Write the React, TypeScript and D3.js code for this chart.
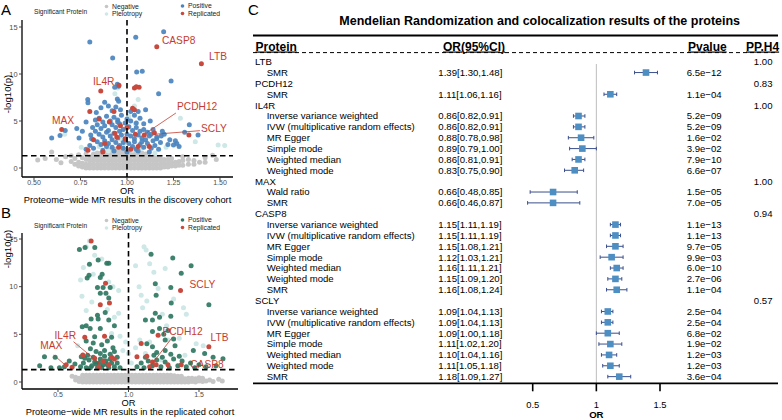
import React from "react";
import * as d3 from "d3";

// ---------- Panel A (discovery cohort) ----------
const negA: [number, number[]][] = [
  [0.52, [0.85]], [0.56, [1.0]], [0.595, [1.7]], [0.62, [0.9]], [0.645, [0.55]], [0.67, [1.2]],
  [0.7, [0.7, 1.3]], [0.72, [0.4, 1.0]], [0.74, [0.2, 0.6, 1.4]], [0.76, [0.1, 0.5, 1.1]],
  [0.78, [0.0, 0.4, 0.9, 1.5]], [0.8, [0.0, 0.4, 0.8, 1.2]], [0.82, [0.0, 0.4, 0.8, 1.2, 1.5]],
  [0.84, [0.0, 0.4, 0.8, 1.2, 1.6]], [0.86, [0.0, 0.4, 0.8, 1.2, 1.6]], [0.88, [0.0, 0.4, 0.8, 1.2, 1.6]],
  [0.9, [0.0, 0.4, 0.8, 1.2, 1.6, 1.9]], [0.92, [0.0, 0.4, 0.8, 1.2, 1.6, 2.0]], [0.94, [0.0, 0.4, 0.8, 1.2, 1.6, 2.0]],
  [0.96, [0.0, 0.4, 0.8, 1.2, 1.6, 2.0]], [0.98, [0.0, 0.4, 0.8, 1.2, 1.6, 2.0]], [1.0, [0.0, 0.4, 0.8, 1.2, 1.6, 2.0]],
  [1.02, [0.0, 0.4, 0.8, 1.2, 1.6, 2.0]], [1.04, [0.0, 0.4, 0.8, 1.2, 1.6, 1.9]], [1.06, [0.0, 0.4, 0.8, 1.2, 1.6]],
  [1.08, [0.0, 0.4, 0.8, 1.2, 1.6]], [1.1, [0.0, 0.4, 0.8, 1.2, 1.5]], [1.12, [0.0, 0.4, 0.8, 1.2]],
  [1.14, [0.0, 0.4, 0.8, 1.2]], [1.16, [0.0, 0.4, 0.8, 1.1]], [1.18, [0.0, 0.4, 0.8, 1.0]],
  [1.2, [0.1, 0.5, 0.9]], [1.22, [0.1, 0.5, 0.9]], [1.24, [0.2, 0.6, 1.0]], [1.26, [0.2, 0.6]],
  [1.28, [0.3, 0.7]], [1.3, [0.3, 0.8, 1.2]], [1.33, [0.4, 0.9]], [1.36, [0.4, 0.8]], [1.39, [0.6]],
  [1.42, [0.6, 1.1]], [1.46, [1.35]], [1.48, [0.9]],
];
const pleA: [number, number][] = [
  [0.95, 8.5], [0.935, 7.9], [1.04, 6.6], [1.06, 7.3], [1.287, 5.3], [1.367, 2.8], [1.49, 2.45],
  [1.525, 2.4], [0.754, 2.2], [0.665, 3.6], [0.98, 2.5], [1.03, 1.9], [1.01, 5.5], [1.08, 2.1],
  [0.9, 1.8], [0.97, 3.0], [1.045, 4.7], [1.15, 1.6], [1.21, 2.2], [0.85, 2.3],
];
const posA: [number, number][] = [
  [0.8, 13.4], [1.047, 13.9], [1.197, 14.5], [0.923, 11.7], [1.082, 10.3], [1.052, 10.2], [1.237, 9.25],
  [0.948, 8.9], [0.934, 8.6], [0.955, 8.7], [1.17, 7.9], [0.789, 7.3], [0.79, 6.95], [0.948, 7.35],
  [0.955, 7.1], [1.1, 6.2], [1.06, 6.0], [0.73, 4.2], [0.668, 4.0], [0.595, 3.2], [0.64, 3.45],
  [0.742, 3.2], [1.335, 4.6], [1.382, 3.5], [1.25, 2.45], [1.268, 2.6], [1.22, 2.5], [1.184, 3.4],
  [1.23, 3.0], [1.26, 2.9], [1.28, 2.3], [1.31, 3.8], [1.16, 3.1], [1.2, 3.6], [1.125, 5.0],
  [1.14, 4.1], [0.815, 4.3], [0.83, 5.1], [0.84, 4.6], [0.78, 4.9], [0.76, 3.9], [0.805, 3.5],
  [0.835, 5.9], [0.86, 6.4], [0.88, 7.0], [0.9, 6.6], [0.92, 6.1], [0.94, 6.5], [0.965, 6.2],
  [1.02, 6.0], [1.04, 5.6], [1.05, 4.8], [1.07, 5.3], [1.09, 4.7],
  [0.85, 5.3], [0.87, 4.9], [0.89, 5.5], [0.91, 5.0], [0.93, 5.4], [0.95, 5.1], [0.97, 5.6],
  [0.99, 4.8], [0.86, 4.2], [0.88, 4.5], [0.9, 4.0], [0.92, 4.6], [0.94, 4.3], [0.96, 4.7],
  [0.98, 4.1], [1.01, 4.4], [1.03, 4.0], [1.05, 4.3], [1.07, 3.9], [1.09, 4.1], [1.11, 3.8],
  [0.85, 3.6], [0.87, 3.3], [0.89, 3.8], [0.91, 3.4], [0.93, 3.7], [0.95, 3.2], [0.97, 3.5],
  [0.99, 3.0], [1.02, 3.4], [1.04, 3.1], [1.06, 3.5], [1.08, 3.2], [1.1, 3.0], [1.12, 3.4],
  [1.14, 2.9], [0.84, 2.8], [0.86, 2.5], [0.88, 2.9], [0.9, 2.6], [0.92, 2.2], [0.94, 2.7],
  [0.96, 2.4], [0.98, 2.1], [1.01, 2.6], [1.03, 2.3], [1.05, 2.0], [1.07, 2.5], [1.09, 2.2],
  [1.11, 2.6], [1.13, 2.1], [1.15, 2.4], [1.17, 2.0], [0.82, 2.1], [0.8, 2.4], [0.78, 2.0],
  [0.87, 1.9], [0.93, 1.8], [1.0, 1.7], [1.06, 1.8], [1.12, 1.7], [0.96, 3.9], [0.92, 3.0],
  [1.0, 3.6], [1.04, 2.8], [0.89, 2.3], [1.08, 2.8], [0.98, 2.7], [1.18, 2.7], [1.19, 3.9],
  [1.13, 3.6], [1.16, 3.3], [0.83, 3.9], [0.81, 3.1], [0.95, 4.9], [1.0, 5.2], [1.02, 5.0],
];
const repA: [number, number][] = [
  [1.16, 12.9], [1.4, 11.1], [0.859, 8.2], [0.649, 4.1], [0.8, 6.0], [0.85, 5.2], [0.957, 8.8],
  [1.04, 8.5], [1.05, 8.65], [1.065, 8.6], [1.03, 6.35], [1.04, 6.2], [0.93, 6.0], [1.333, 3.5],
  [1.093, 3.5], [1.147, 3.75], [0.935, 3.7], [0.945, 3.3], [0.88, 2.6], [1.02, 2.0], [1.06, 2.3],
  [0.79, 1.9], [0.82, 3.0], [0.99, 3.1], [0.955, 2.2], [1.0, 4.3], [1.045, 3.6], [0.905, 4.9],
  [0.965, 4.5], [1.12, 2.3], [0.87, 1.7],
];

// ---------- Panel B (replicated cohort) ----------
const negB: [number, number[]][] = [
  [0.6, [0.6]], [0.625, [0.2, 0.5]], [0.65, [0.05, 0.4]], [0.675, [0.0, 0.35, 0.7]],
  [0.7, [0.0, 0.35, 0.7]], [0.725, [0.0, 0.35, 0.7]], [0.75, [0.0, 0.35, 0.7]], [0.775, [0.0, 0.35, 0.7]],
  [0.8, [0.0, 0.35, 0.7]], [0.825, [0.0, 0.35, 0.7]], [0.85, [0.0, 0.35, 0.7]], [0.875, [0.0, 0.35, 0.7]],
  [0.9, [0.0, 0.35, 0.7]], [0.925, [0.0, 0.35, 0.7]], [0.95, [0.0, 0.35, 0.7]], [0.975, [0.0, 0.35, 0.7]],
  [1.0, [0.0, 0.35, 0.7]], [1.025, [0.0, 0.35, 0.7]], [1.05, [0.0, 0.35, 0.7]], [1.075, [0.0, 0.35, 0.7]],
  [1.1, [0.0, 0.35, 0.7]], [1.125, [0.0, 0.35, 0.7]], [1.15, [0.0, 0.35, 0.7]], [1.175, [0.0, 0.35, 0.7]],
  [1.2, [0.0, 0.35, 0.7]], [1.225, [0.0, 0.35, 0.7]], [1.25, [0.0, 0.35, 0.7]], [1.275, [0.0, 0.35, 0.7]],
  [1.3, [0.0, 0.35, 0.7]], [1.325, [0.0, 0.35, 0.65]], [1.35, [0.0, 0.35, 0.6]], [1.375, [0.0, 0.35, 0.6]],
  [1.4, [0.0, 0.35]], [1.425, [0.0, 0.4]], [1.45, [0.05, 0.4]], [1.475, [0.0, 0.35]], [1.5, [0.1, 0.45]],
  [1.525, [0.05, 0.4]], [1.55, [0.1]], [1.575, [0.2]], [1.6, [0.05]], [1.64, [0.3]], [1.665, [0.1]],
];
const pleB: [number, number][] = [
  [0.723, 14.8], [0.7, 14.2], [0.76, 13.3], [0.81, 12.9], [0.68, 12.0], [0.75, 11.3], [0.66, 10.7],
  [0.86, 10.5], [0.89, 10.0], [0.93, 9.6], [0.67, 9.0], [0.74, 8.4], [0.85, 7.6], [0.9, 6.8],
  [0.93, 7.2], [0.7, 7.5], [0.88, 5.1], [0.94, 4.8], [0.98, 4.2], [0.96, 3.3], [0.64, 3.8],
  [1.11, 14.2], [1.125, 13.85], [1.15, 12.4], [1.05, 12.2], [1.075, 10.0], [1.18, 11.5], [1.26, 11.9],
  [1.21, 9.8], [1.09, 9.1], [1.13, 8.5], [1.32, 8.7], [1.39, 7.8], [1.1, 7.8], [1.24, 7.1],
  [1.41, 7.1], [1.27, 5.9], [1.36, 4.6], [1.08, 4.4], [1.15, 4.2], [1.28, 4.4], [1.48, 4.0],
  [1.53, 3.8], [1.12, 3.0], [1.4, 2.8], [1.05, 3.6], [1.23, 2.3], [1.02, 2.0], [1.0, 3.0],
];
const posB: [number, number][] = [
  [0.652, 13.9], [0.692, 14.1], [0.761, 14.1], [0.785, 12.8], [0.86, 12.45], [0.723, 12.35],
  [0.846, 12.45], [0.813, 11.3], [0.8, 10.95], [0.707, 10.9], [0.72, 11.2], [0.78, 9.9], [0.82, 9.9],
  [0.87, 9.9], [0.8, 9.3], [0.84, 9.3], [0.86, 8.8], [0.835, 7.3], [0.78, 7.0], [0.735, 6.6],
  [0.785, 6.6], [0.86, 6.5], [0.9, 5.9], [0.8, 5.6], [0.728, 5.6], [0.672, 5.8], [0.7, 5.9],
  [0.76, 4.75], [0.88, 4.7], [0.75, 4.1], [0.81, 3.9], [0.85, 4.3], [0.89, 3.6], [0.8, 3.0],
  [0.92, 2.6], [0.7, 4.3], [0.73, 3.5], [0.77, 3.2], [0.83, 3.3], [0.87, 2.9], [0.9, 3.2],
  [0.404, 2.65], [0.48, 2.6], [0.37, 1.7], [0.546, 1.6], [0.51, 1.5], [0.665, 2.65], [0.62, 1.9],
  [0.58, 2.2], [0.45, 1.5],
  [0.66, 1.6], [0.68, 2.0], [0.7, 1.5], [0.72, 2.3], [0.74, 1.7], [0.76, 2.1], [0.78, 1.5],
  [0.8, 2.4], [0.82, 1.8], [0.84, 2.2], [0.86, 1.5], [0.88, 2.0], [0.9, 1.6], [0.92, 2.0],
  [0.94, 1.5], [0.71, 2.8], [0.75, 2.6], [0.79, 2.0], [0.83, 2.7], [0.87, 2.4], [0.77, 1.9],
  [0.81, 1.5], [0.85, 1.8], [0.73, 1.5], [0.69, 2.5],
  [1.16, 13.4], [1.314, 13.0], [1.444, 12.2], [1.374, 11.4], [1.19, 10.3], [1.196, 9.1],
  [1.303, 8.3], [1.57, 8.1], [1.3, 9.9], [1.19, 7.2], [1.12, 6.5], [1.17, 6.5], [1.22, 6.8],
  [1.3, 6.9], [1.22, 5.6], [1.25, 5.0], [1.17, 5.3], [1.28, 5.4], [1.32, 4.5], [1.26, 4.4],
  [1.13, 4.0], [1.17, 3.7], [1.33, 3.8], [1.46, 3.3], [1.67, 2.45], [1.6, 2.6], [1.54, 3.0],
  [1.2, 3.1], [1.26, 3.3],
  [1.06, 1.6], [1.09, 2.0], [1.11, 1.5], [1.14, 2.2], [1.17, 1.7], [1.2, 2.3], [1.23, 1.6],
  [1.26, 2.1], [1.29, 1.5], [1.32, 2.4], [1.35, 1.7], [1.38, 2.2], [1.41, 1.6], [1.44, 2.0],
  [1.47, 1.5], [1.5, 1.8], [1.12, 2.6], [1.18, 2.8], [1.24, 2.6], [1.3, 2.9], [1.36, 2.7],
  [1.55, 1.6], [1.62, 1.7],
];
const repB: [number, number][] = [
  [0.735, 14.8], [0.837, 10.35], [0.8, 8.1], [0.865, 8.3], [0.69, 4.7], [0.83, 4.8], [0.558, 1.8],
  [0.6, 1.55], [0.676, 2.83], [0.86, 1.8], [0.82, 2.2], [0.76, 2.5], [0.88, 2.6], [0.79, 1.6],
  [1.369, 9.6], [1.21, 4.9], [1.09, 4.05], [1.57, 3.7], [1.06, 2.65], [1.13, 2.7], [1.374, 1.8],
  [1.196, 1.8], [1.15, 1.6], [1.28, 1.8], [1.17, 2.1], [0.9, 2.4],
];

const xTicksA = [0.5, 0.75, 1.0, 1.25, 1.5];
const xTickLabelsA = ["0.50", "0.75", "1.00", "1.25", "1.50"];
const xTicksB = [0.5, 1.0, 1.5];
const xTickLabelsB = ["0.5", "1.0", "1.5"];
const yTicksV = [0, 5, 10, 15];
const legendCats = ["Negative", "Pleiotropy", "Positive", "Replicated"];
const geneLabels = ["CASP8", "LTB", "IL4R", "MAX", "PCDH12", "SCLY"];

// ---------- Panel C (forest) ----------
const forestProteins = ["LTB", "PCDH12", "IL4R", "MAX", "CASP8", "SCLY"];
const ppH4 = ["1.00", "0.83", "1.00", "1.00", "0.94", "0.57"];
const mrProtein = [
  "LTB", "PCDH12",
  "IL4R", "IL4R", "IL4R", "IL4R", "IL4R", "IL4R",
  "MAX", "MAX",
  "CASP8", "CASP8", "CASP8", "CASP8", "CASP8", "CASP8", "CASP8",
  "SCLY", "SCLY", "SCLY", "SCLY", "SCLY", "SCLY", "SCLY",
];
const IVW = "Inverse variance weighted";
const IVWM = "IVW (multiplicative random effects)";
const mrMethod = [
  "SMR", "SMR",
  IVW, IVWM, "MR Egger", "Simple mode", "Weighted median", "Weighted mode",
  "Wald ratio", "SMR",
  IVW, IVWM, "MR Egger", "Simple mode", "Weighted median", "Weighted mode", "SMR",
  IVW, IVWM, "MR Egger", "Simple mode", "Weighted median", "Weighted mode", "SMR",
];
const mrOR = [1.39, 1.11, 0.86, 0.86, 0.88, 0.89, 0.86, 0.83, 0.66, 0.66, 1.15, 1.15, 1.15, 1.12, 1.16, 1.15, 1.16, 1.09, 1.09, 1.09, 1.11, 1.10, 1.11, 1.18];
const mrLow = [1.30, 1.06, 0.82, 0.82, 0.78, 0.79, 0.81, 0.75, 0.48, 0.46, 1.11, 1.11, 1.08, 1.03, 1.11, 1.09, 1.08, 1.04, 1.04, 1.00, 1.02, 1.04, 1.05, 1.09];
const mrHigh = [1.48, 1.16, 0.91, 0.91, 0.98, 1.00, 0.91, 0.90, 0.85, 0.87, 1.19, 1.19, 1.21, 1.21, 1.21, 1.20, 1.24, 1.13, 1.13, 1.18, 1.20, 1.16, 1.18, 1.27];
const mrP = [
  "6.5e−12", "1.1e−04",
  "5.2e−09", "5.2e−09", "1.6e−02", "3.9e−02", "7.9e−10", "6.6e−07",
  "1.5e−05", "7.0e−05",
  "1.1e−13", "1.1e−13", "9.7e−05", "9.9e−03", "6.0e−10", "2.7e−06", "1.1e−04",
  "2.5e−04", "2.5e−04", "6.8e−02", "1.9e−02", "1.2e−03", "1.2e−03", "3.6e−04",
];
const forestTicks = [0.5, 1, 1.5];

// ---------- styles ----------
const FONT = "'Liberation Sans', Arial, Helvetica, sans-serif";
const C_NEG = "#c6c6c6";
const C_PLE = "#cde8e6";
const C_POS_A = "#4a84be";
const C_POS_B = "#2f7762";
const C_REP = "#c8493e";
const C_LABEL = "#c43c2f";
const R = 2.5;

type Lab = { name: string; x: number; y: number; line?: [number, number, number, number] };

function Volcano(props: {
  left: number; right: number; top: number; bottom: number;
  xDomain: [number, number]; yDomain: [number, number];
  neg: [number, number[]][]; ple: [number, number][]; pos: [number, number][]; rep: [number, number][];
  posColor: string; xTicks: number[]; xTickLabels: string[];
  labels: Lab[]; title: string; letter: string; letterY: number; legendY: number;
  ylabY: number;
}) {
  const p = props;
  const x = d3.scaleLinear().domain(p.xDomain).range([p.left, p.right]);
  const y = d3.scaleLinear().domain(p.yDomain).range([p.bottom, p.top]);
  const negPts: [number, number][] = p.neg.flatMap(([o, vs]) => vs.map((v) => [o, v] as [number, number]));
  const legColors = [C_NEG, C_PLE, p.posColor, C_REP];
  const legPos = [
    [106.5, p.legendY], [106.5, p.legendY + 7.5], [182.5, p.legendY - 0.5], [182.5, p.legendY + 7],
  ];
  const midX = (p.left + p.right) / 2;
  return (
    <g fontFamily={FONT}>
      <text x={1} y={p.letterY} fontSize={15} fill="#000">{p.letter}</text>
      <text x={34} y={p.legendY + 7} fontSize={6.6} fill="#222">Significant Protein</text>
      {legendCats.map((c, i) => (
        <g key={c}>
          <circle cx={legPos[i][0]} cy={legPos[i][1]} r={1.8} fill={legColors[i]} />
          <text x={legPos[i][0] + 5.5} y={legPos[i][1] + 2.4} fontSize={6.8} fill="#222">{c}</text>
        </g>
      ))}
      {negPts.map((d, i) => <circle key={"n" + i} cx={x(d[0])} cy={y(d[1])} r={R} fill={C_NEG} />)}
      {p.ple.map((d, i) => <circle key={"l" + i} cx={x(d[0])} cy={y(d[1])} r={R} fill={C_PLE} />)}
      {p.pos.map((d, i) => <circle key={"p" + i} cx={x(d[0])} cy={y(d[1])} r={R} fill={p.posColor} opacity={0.92} />)}
      {p.rep.map((d, i) => <circle key={"r" + i} cx={x(d[0])} cy={y(d[1])} r={R} fill={C_REP} />)}
      <line x1={x(1)} x2={x(1)} y1={p.top} y2={p.bottom} stroke="#000" strokeWidth={1.6} strokeDasharray="5.5,3.5" />
      <line x1={p.left} x2={p.right} y1={y(1.3)} y2={y(1.3)} stroke="#000" strokeWidth={1.6} strokeDasharray="5.5,3.5" />
      {p.labels.map((l) => (
        <g key={l.name}>
          {l.line && (
            <line x1={x(l.line[0])} y1={y(l.line[1])} x2={x(l.line[2])} y2={y(l.line[3])} stroke={C_LABEL} strokeWidth={0.8} />
          )}
          <text x={x(l.x)} y={y(l.y)} fontSize={10.2} fill={C_LABEL}>{l.name}</text>
        </g>
      ))}
      <line x1={p.left} x2={p.left} y1={p.top} y2={p.bottom} stroke="#000" strokeWidth={1.3} />
      <line x1={p.left} x2={p.right} y1={p.bottom} y2={p.bottom} stroke="#000" strokeWidth={1.3} />
      {yTicksV.map((t) => (
        <g key={"y" + t}>
          <line x1={p.left - 3} x2={p.left} y1={y(t)} y2={y(t)} stroke="#333" strokeWidth={0.9} />
          <text x={p.left - 4.5} y={y(t) + 2.6} fontSize={7.4} textAnchor="end" fill="#4d4d4d">{t}</text>
        </g>
      ))}
      {p.xTicks.map((t, i) => (
        <g key={"x" + t}>
          <line x1={x(t)} x2={x(t)} y1={p.bottom} y2={p.bottom + 3} stroke="#333" strokeWidth={0.9} />
          <text x={x(t)} y={p.bottom + 8.3} fontSize={7} textAnchor="middle" fill="#4d4d4d">{p.xTickLabels[i]}</text>
        </g>
      ))}
      <text x={x(1)} y={p.bottom + 17.2} fontSize={9.3} textAnchor="middle" fill="#000">OR</text>
      <text x={midX} y={p.bottom + 26} fontSize={9.3} textAnchor="middle" fill="#000">{p.title}</text>
      <text transform={`translate(10.5,${p.ylabY}) rotate(-90)`} fontSize={9.6} textAnchor="middle" fill="#000">-log10(p)</text>
    </g>
  );
}

function Forest() {
  const fx = d3.scaleLinear().domain([0.5, 1.5]).range([532.7, 660]);
  const rowY = (r: number) => 61.7 + r * 10.86;
  const rows: { type: "g" | "m"; gi: number; i: number; row: number }[] = [];
  let r = 0;
  forestProteins.forEach((pr, gi) => {
    rows.push({ type: "g", gi, i: -1, row: r++ });
    mrProtein.forEach((mp, i) => {
      if (mp === pr) rows.push({ type: "m", gi, i, row: r++ });
    });
  });
  const fs = 9.6;
  const off = 3.4;
  const axisY = 383.3;
  const boxColor = "#4d8ec3";
  const barColor = "#3b4f8c";
  return (
    <g fontFamily={FONT}>
      <text x={248} y={15} fontSize={15} fill="#000">C</text>
      <text x={539.7} y={24.5} fontSize={12.5} fontWeight="bold" textAnchor="middle" fill="#000">
        Mendelian Randomization and colocalization results of the proteins
      </text>
      <line x1={253} x2={778} y1={35.5} y2={35.5} stroke="#000" strokeWidth={2} />
      <line x1={253} x2={778} y1={52.6} y2={52.6} stroke="#000" strokeWidth={1} strokeDasharray="4,3" />
      {[
        ["Protein", 255.5, "start"],
        ["OR(95%CI)", 443, "start"],
        ["Pvalue", 688, "start"],
        ["PP.H4", 746, "start"],
      ].map(([t, xx, a]) => (
        <text key={t as string} x={xx as number} y={50.5} fontSize={12} fontWeight="bold" textAnchor={a as any} fill="#000"
          textDecoration="underline">{t}</text>
      ))}
      <line x1={fx(1)} x2={fx(1)} y1={64} y2={axisY} stroke="#bdbdbd" strokeWidth={1} />
      {rows.map((rw) => {
        const cy = rowY(rw.row);
        if (rw.type === "g") {
          return (
            <g key={"g" + rw.gi}>
              <text x={255} y={cy + off} fontSize={fs} fill="#000">{forestProteins[rw.gi]}</text>
              <text x={772.5} y={cy + off} fontSize={fs} textAnchor="end" fill="#000">{ppH4[rw.gi]}</text>
            </g>
          );
        }
        const i = rw.i;
        const lo = fx(mrLow[i]);
        const hi = fx(mrHigh[i]);
        const cx = fx(mrOR[i]);
        const s = 6.6;
        return (
          <g key={"m" + i}>
            <text x={266.7} y={cy + off} fontSize={fs} fill="#000">{mrMethod[i]}</text>
            <text x={438.3} y={cy + off} fontSize={fs} fill="#000">
              {`${mrOR[i].toFixed(2)}[${mrLow[i].toFixed(2)},${mrHigh[i].toFixed(2)}]`}
            </text>
            <text x={686.7} y={cy + off} fontSize={fs} fill="#000">{mrP[i]}</text>
            <line x1={lo} x2={hi} y1={cy} y2={cy} stroke={barColor} strokeWidth={1} />
            <line x1={lo} x2={lo} y1={cy - 1.8} y2={cy + 1.8} stroke={barColor} strokeWidth={1} />
            <line x1={hi} x2={hi} y1={cy - 1.8} y2={cy + 1.8} stroke={barColor} strokeWidth={1} />
            <rect x={cx - s / 2} y={cy - s / 2} width={s} height={s} fill={boxColor} />
          </g>
        );
      })}
      <line x1={253} x2={778} y1={axisY} y2={axisY} stroke="#000" strokeWidth={1.8} />
      {forestTicks.map((t) => (
        <g key={"ft" + t}>
          <line x1={fx(t)} x2={fx(t)} y1={axisY} y2={axisY + 8} stroke="#000" strokeWidth={1.6} />
          <text x={fx(t)} y={407.5} fontSize={9.4} textAnchor="middle" fill="#000">{String(t)}</text>
        </g>
      ))}
      <text x={fx(1)} y={418.3} fontSize={9.6} fontWeight="bold" textAnchor="middle" fill="#000">OR</text>
    </g>
  );
}

const labelsA: Lab[] = [
  { name: geneLabels[0], x: 1.188, y: 13.2 },
  { name: geneLabels[1], x: 1.441, y: 11.5 },
  { name: geneLabels[2], x: 0.817, y: 8.88 },
  { name: geneLabels[3], x: 0.597, y: 4.63 },
  { name: geneLabels[4], x: 1.269, y: 6.12, line: [1.263, 5.85, 1.106, 3.76] },
  { name: geneLabels[5], x: 1.398, y: 3.78, line: [1.392, 3.97, 1.147, 3.59] },
];
const labelsB: Lab[] = [
  { name: geneLabels[5], x: 1.433, y: 9.81 },
  { name: geneLabels[4], x: 1.241, y: 4.91, line: [1.314, 4.75, 1.161, 1.78] },
  { name: geneLabels[1], x: 1.582, y: 4.25 },
  { name: geneLabels[0], x: 1.438, y: 1.52 },
  { name: geneLabels[2], x: 0.475, y: 4.56, line: [0.61, 4.23, 0.794, 1.96] },
  { name: geneLabels[3], x: 0.374, y: 3.44, line: [0.47, 2.83, 0.551, 1.78] },
];

export default function App() {
  return (
    <svg width={782} height={420} style={{ position: "absolute", left: 0, top: 0, background: "#fff" }}>
      <rect x={0} y={0} width={782} height={420} fill="#fff" />
      <Volcano
        left={22} right={233} top={20} bottom={177}
        xDomain={[0.4355, 1.5699]} yDomain={[-0.957, 15.745]}
        neg={negA} ple={pleA} pos={posA} rep={repA} posColor={C_POS_A}
        xTicks={xTicksA} xTickLabels={xTickLabelsA} labels={labelsA}
        title="Proteome−wide MR results in the discovery cohort" letter="A" letterY={15}
        legendY={6.5} ylabY={94}
      />
      <Volcano
        left={22} right={238} top={233} bottom={389}
        xDomain={[0.2447, 1.7766]} yDomain={[-0.734, 15.63]}
        neg={negB} ple={pleB} pos={posB} rep={repB} posColor={C_POS_B}
        xTicks={xTicksB} xTickLabels={xTickLabelsB} labels={labelsB}
        title="Proteome−wide MR results in the replicated cohort" letter="B" letterY={218}
        legendY={220.5} ylabY={249}
      />
      <Forest />
    </svg>
  );
}
